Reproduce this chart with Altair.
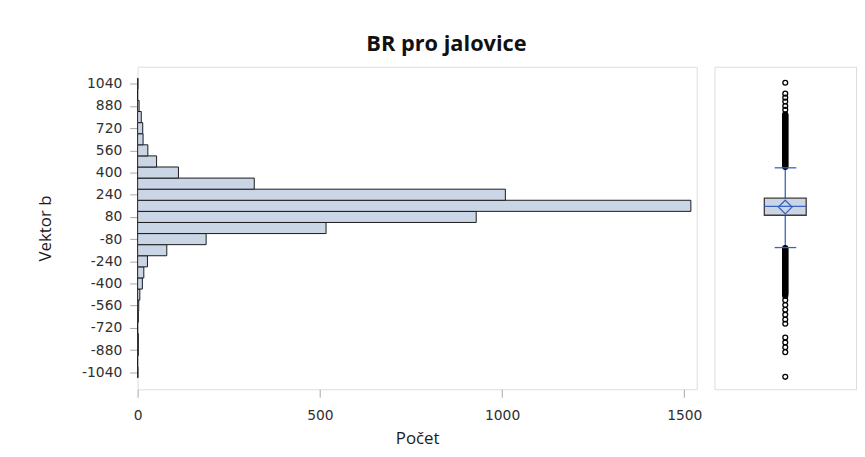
import altair as alt
import pandas as pd

# ---- histogram data (bin centres, width 80) ----
bin_centers = [-1040, -960, -880, -800, -720, -640, -560, -480, -400, -320, -240, -160, -80,
               0, 80, 160, 240, 320, 400, 480, 560, 640, 720, 800, 880, 960, 1040]
counts = [1, 0, 2, 2, 0, 2, 3, 6, 13, 17, 27, 80, 188,
          517, 929, 1518, 1009, 320, 112, 52, 28, 15, 14, 10, 4, 0, 1]
bin_width = 80
y_ticks = [-1040, -880, -720, -560, -400, -240, -80, 80, 240, 400, 560, 720, 880, 1040]
x_ticks = [0, 500, 1000, 1500]

# ---- box plot statistics ----
q1 = 92
median = 156
q3 = 215
mean = 151
whisker_lo = -141
whisker_hi = 434
outliers_hi = [1047, 969, 940, 912, 880, 852,
               820, 815, 810, 805, 800, 795, 790, 785, 780, 775, 770, 765, 760, 755,
               750, 745, 740, 735, 730, 725, 720, 715, 710, 705, 700, 695, 690, 685,
               680, 675, 670, 665, 660, 655, 650, 645, 640, 635, 630, 625, 620, 615,
               610, 605, 600, 595, 590, 585, 580, 575, 570, 565, 560, 555, 550, 545,
               540, 535, 530, 525, 520, 515, 510, 505, 500, 495, 490, 485, 480, 475,
               470, 465, 460, 455, 450, 445, 440]
outliers_lo = [-145, -150, -155, -160, -165, -170, -175, -180, -185, -190, -195, -200,
               -205, -210, -215, -220, -225, -230, -235, -240, -245, -250, -255, -260,
               -265, -270, -275, -280, -285, -290, -295, -300, -305, -310, -315, -320,
               -325, -330, -335, -340, -345, -350, -355, -360, -365, -370, -375, -380,
               -385, -390, -395, -400, -405, -410, -415, -420, -425, -430, -435, -440,
               -445, -450, -455, -460, -465, -470, -475, -480,
               -490, -520, -555, -590, -625, -660, -690,
               -790, -825, -860, -895, -1073]

hist_df = pd.DataFrame({
    "center": bin_centers,
    "count": counts,
})
hist_df["lo"] = hist_df["center"] - bin_width / 2
hist_df["hi"] = hist_df["center"] + bin_width / 2

box_df = pd.DataFrame({"q1": [q1], "q3": [q3], "median": [median], "mean": [mean],
                       "lo": [whisker_lo], "hi": [whisker_hi]})
out_df = pd.DataFrame({"v": outliers_hi + outliers_lo})

Y_DOMAIN = [-1163, 1163]
FRAME = "#A8A8A8"
BLUE = "#3a62c4"
FILL = "#CAD5E5"
LABEL_FONT = "DejaVu Sans"
TITLE_FONT = "Open Sans"

yscale = alt.Scale(domain=Y_DOMAIN, nice=False, zero=False)

hist = alt.Chart(hist_df).mark_rect(
    fill=FILL, stroke="#1a1a1a", strokeWidth=1
).encode(
    x=alt.X("count:Q", scale=alt.Scale(domain=[0, 1534], nice=False),
            axis=alt.Axis(values=x_ticks, title="Počet", grid=False, domain=False,
                          tickColor=FRAME, tickSize=8, labelPadding=12, labelFlush=False,
                          labelExpr="'' + datum.value",
                          labelFont=LABEL_FONT, labelFontSize=14, labelColor="#303030",
                          titleFont=TITLE_FONT, titleFontSize=17, titleFontWeight="normal",
                          titleColor="#1a1a1a", titlePadding=8)),
    x2=alt.X2Datum(0),
    y=alt.Y("lo:Q", scale=yscale,
            axis=alt.Axis(values=y_ticks, title="Vektor b", grid=False, domain=False,
                          tickColor=FRAME, tickSize=8, labelPadding=8, labelOverlap=False,
                          labelFlush=False, labelExpr="'' + datum.value",
                          labelFont=LABEL_FONT, labelFontSize=14, labelColor="#303030",
                          titleFont=TITLE_FONT, titleFontSize=17, titleFontWeight="normal",
                          titleColor="#1a1a1a", titlePadding=27)),
    y2="hi:Q",
).properties(width=565, height=326)

xs = alt.Scale(domain=[0, 1], nice=False, zero=False)

box_rect = alt.Chart(box_df).mark_rect(fill=FILL, stroke="#3c3c3c", strokeWidth=1.3).encode(
    x=alt.XDatum(0.352, scale=xs, axis=None),
    x2=alt.X2Datum(0.648),
    y=alt.Y("q1:Q", scale=yscale, axis=None),
    y2="q3:Q",
)
whisk_up = alt.Chart(box_df).mark_rule(color=BLUE, strokeWidth=1.3).encode(
    x=alt.XDatum(0.5, scale=xs, axis=None),
    y=alt.Y("q3:Q", scale=yscale, axis=None),
    y2="hi:Q",
)
whisk_dn = alt.Chart(box_df).mark_rule(color=BLUE, strokeWidth=1.3).encode(
    x=alt.XDatum(0.5, scale=xs, axis=None),
    y=alt.Y("lo:Q", scale=yscale, axis=None),
    y2="q1:Q",
)
med = alt.Chart(box_df).mark_rule(color=BLUE, strokeWidth=1.3).encode(
    x=alt.XDatum(0.352, scale=xs, axis=None),
    x2=alt.X2Datum(0.648),
    y=alt.Y("median:Q", scale=yscale, axis=None),
)
cap_hi = alt.Chart(box_df).mark_rule(color=BLUE, strokeWidth=1.3).encode(
    x=alt.XDatum(0.425, scale=xs, axis=None),
    x2=alt.X2Datum(0.578),
    y=alt.Y("hi:Q", scale=yscale, axis=None),
)
cap_lo = alt.Chart(box_df).mark_rule(color=BLUE, strokeWidth=1.3).encode(
    x=alt.XDatum(0.425, scale=xs, axis=None),
    x2=alt.X2Datum(0.578),
    y=alt.Y("lo:Q", scale=yscale, axis=None),
)
mean_pt = alt.Chart(box_df).mark_point(shape="diamond", color=BLUE, filled=False,
                                       size=190, strokeWidth=1.3, opacity=1).encode(
    x=alt.XDatum(0.5, scale=xs, axis=None),
    y=alt.Y("mean:Q", scale=yscale, axis=None),
)
outl = alt.Chart(out_df).mark_point(shape="circle", color="black", filled=False,
                                    size=24, strokeWidth=1.3, opacity=1).encode(
    x=alt.XDatum(0.5, scale=xs, axis=None),
    y=alt.Y("v:Q", scale=yscale, axis=None),
)

box = alt.layer(whisk_up, whisk_dn, box_rect, med, mean_pt, outl, cap_hi, cap_lo).properties(
    width=143, height=326)

chart = alt.hconcat(hist, box, spacing=11).properties(
    title=alt.TitleParams("BR pro jalovice", font=TITLE_FONT, fontSize=22,
                          fontWeight="bold", color="#111111", anchor="middle",
                          frame="bounds", offset=10),
    padding={"left": 28, "top": 23, "right": 0, "bottom": 0},
).configure_view(
    stroke=FRAME, strokeWidth=1
).configure(background="white")

chart.save("out.html", embed_options={"renderer": "svg", "actions": False})
